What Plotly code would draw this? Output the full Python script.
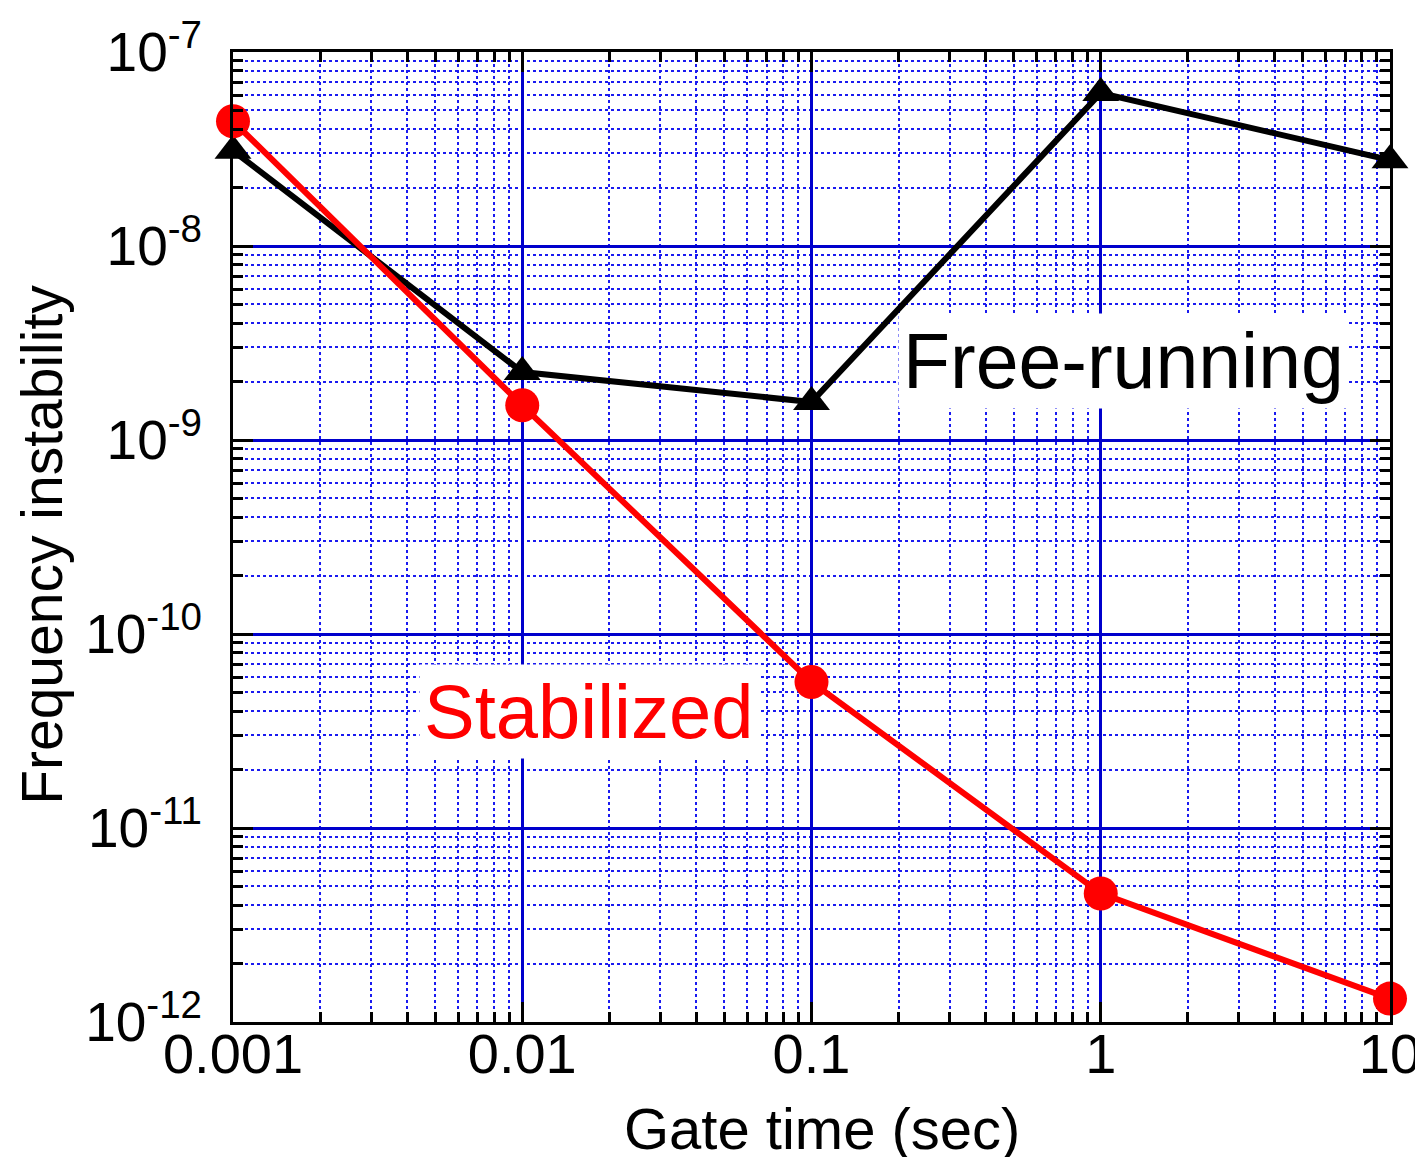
import plotly.graph_objects as go

gate_time = [0.001, 0.01, 0.1, 1, 10]
free_running = [3.1e-8, 2.24e-9, 1.57e-9, 6.15e-8, 2.77e-8]
stabilized = [4.4e-8, 1.51e-9, 5.66e-11, 4.6e-12, 1.32e-12]

x_tickvals = [0.001, 0.01, 0.1, 1, 10]
x_ticktext = ["0.001", "0.01", "0.1", "1", "10"]
y_tickvals = [1e-12, 1e-11, 1e-10, 1e-9, 1e-8, 1e-7]
y_ticktext = ["10<sup>-12</sup>", "10<sup>-11</sup>", "10<sup>-10</sup>",
              "10<sup>-9</sup>", "10<sup>-8</sup>", "10<sup>-7</sup>"]

x_minor = [m * 10.0 ** e for e in range(-3, 1) for m in range(2, 10)]
y_minor = [m * 10.0 ** e for e in range(-12, -7) for m in range(2, 10)]

FONT = "Liberation Sans, Arial, sans-serif"
GRID_MAJOR = "#0000CC"
GRID_MINOR = "#1A1AF0"

fig = go.Figure()
fig.add_trace(go.Scatter(
    x=gate_time, y=free_running, mode="lines+markers",
    line=dict(color="black", width=6),
    marker=dict(symbol="triangle-up", size=32, color="black"),
    cliponaxis=False, name="Free-running"))
fig.add_trace(go.Scatter(
    x=gate_time, y=stabilized, mode="lines+markers",
    line=dict(color="#FF0000", width=6),
    marker=dict(symbol="circle", size=34, color="#FF0000"),
    cliponaxis=False, name="Stabilized"))

axis_common = dict(
    type="log", showline=True, linecolor="black", linewidth=3, mirror="allticks",
    ticks="inside", tickcolor="black", tickwidth=3, ticklen=20,
    showgrid=True, gridcolor=GRID_MAJOR, gridwidth=3, zeroline=False,
    automargin=False,
)

fig.update_xaxes(
    **axis_common, range=[-3, 1], tickmode="array", tickvals=x_tickvals, ticktext=x_ticktext,
    tickfont=dict(family=FONT, size=56, color="black"),
    minor=dict(tickmode="array", tickvals=x_minor, ticks="inside", ticklen=10, tickwidth=3,
               tickcolor="black", showgrid=True, gridcolor=GRID_MINOR, griddash="dot", gridwidth=2),
    ticklabelstandoff=-19,
)
fig.update_yaxes(
    **axis_common, range=[-12, -7], tickmode="array", tickvals=y_tickvals, ticktext=y_ticktext,
    tickfont=dict(family=FONT, size=55, color="black"),
    minor=dict(tickmode="array", tickvals=y_minor, ticks="inside", ticklen=10, tickwidth=3,
               tickcolor="black", showgrid=True, gridcolor=GRID_MINOR, griddash="dot", gridwidth=2),
    ticklabelstandoff=17,
)

# axis titles (placed as annotations to match the reference offsets)
fig.add_annotation(x=0.509, y=-0.1093, xref="paper", yref="paper", text="Gate time (sec)",
                   xanchor="center", yanchor="middle", showarrow=False,
                   font=dict(family=FONT, size=58, color="black"))
fig.add_annotation(x=-0.165, y=0.492, xref="paper", yref="paper", text="Frequency instability",
                   textangle=-90, xanchor="center", yanchor="middle", showarrow=False,
                   font=dict(family=FONT, size=57, color="black"))

fig.add_annotation(x=0.77, y=0.681, xref="paper", yref="paper", text="Free-running",
                   xanchor="center", yanchor="middle",
                   showarrow=False, bgcolor="white", borderpad=4,
                   font=dict(family=FONT, size=77, color="black"))
fig.add_annotation(x=0.308, y=0.32, xref="paper", yref="paper", text="Stabilized",
                   xanchor="center", yanchor="middle",
                   showarrow=False, bgcolor="white", borderpad=4,
                   font=dict(family=FONT, size=76, color="#FF0000"))

fig.update_layout(
    width=1415, height=1149, showlegend=False,
    paper_bgcolor="white", plot_bgcolor="white",
    margin=dict(l=225, r=33, t=44, b=135),
)

fig.write_html("out.html")
